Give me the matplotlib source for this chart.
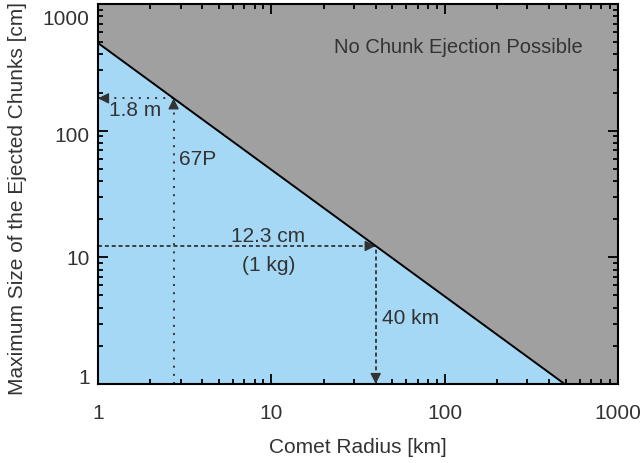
import numpy as np
import matplotlib.pyplot as plt
import matplotlib.transforms as mtransforms
from matplotlib.ticker import FixedLocator, LogLocator, NullFormatter

plt.rcParams['font.family'] = ['Liberation Sans', 'DejaVu Sans']

# ---------------- data ----------------
# boundary: largest chunk that can still be ejected vs comet radius
boundary_radius = [1.0, 2.73, 40.0, 492.0]      # km
boundary_size = [492.0, 180.0, 12.3, 1.0]       # cm

# the two marked cases
p67_radius, p67_size = 2.73, 180.0              # 67P, 1.8 m
r40_radius, r40_size = 40.0, 12.3               # 40 km, 12.3 cm (1 kg)

x_ticks = [1, 10, 100, 1000]
y_ticks = [1, 10, 100, 1000]
x_ticklabels = ['1', '10', '100', '1000']
y_ticklabels = ['1', '10', '100', '1000']

blue = '#a5d8f5'
grey = '#a0a0a0'
txt = '#333333'
fs = 15


def arrow_head(ax, tip, tail):
    # short solid segment only used to draw the arrow head
    ax.annotate('', xy=tip, xytext=tail,
                arrowprops=dict(arrowstyle='-|>', color=txt, lw=1.0,
                                mutation_scale=16, shrinkA=0, shrinkB=0),
                zorder=2)


fig = plt.figure(figsize=(6.43, 4.64), dpi=100)
ax = fig.add_axes([98 / 643, 1 - 385 / 464, 520 / 643, 380 / 464])

ax.set_xscale('log')
ax.set_yscale('log')
ax.set_xlim(1, 1000)
ax.set_ylim(1, 1000)

bx = np.array(boundary_radius)
by = np.array(boundary_size)
ax.fill_between(bx, by, 1, color=blue, lw=0, zorder=1)
ax.fill_between(bx, by, 1000, color=grey, lw=0, zorder=1)
ax.fill_between([bx[-1], 1000], [1, 1], [1000, 1000], color=grey, lw=0, zorder=1)
ax.plot(bx, by, color='black', lw=1.4, zorder=3)

# -------- 67P: dotted lines --------
dots = (0, (1, 3.2))
ax.plot([1, p67_radius], [p67_size, p67_size], color=txt, lw=1.4, ls=dots, zorder=2)
ax.plot([p67_radius, p67_radius], [1, p67_size], color=txt, lw=1.4, ls=dots, zorder=2)
arrow_head(ax, (1, p67_size), (1.08, p67_size))
arrow_head(ax, (p67_radius, p67_size), (p67_radius, p67_size * 0.88))

# -------- 40 km: dashed lines --------
dash = (0, (2.2, 1.6))
ax.plot([1, r40_radius], [r40_size, r40_size], color=txt, lw=1.3, ls=dash, zorder=2)
ax.plot([r40_radius, r40_radius], [1, r40_size], color=txt, lw=1.3, ls=dash, zorder=2)
arrow_head(ax, (r40_radius, r40_size), (r40_radius * 0.92, r40_size))
arrow_head(ax, (r40_radius, 1), (r40_radius, 1.13))

ax.text(1.15, 148, '1.8 m', fontsize=fs, color=txt, va='center', ha='left')
ax.text(2.95, 60, '67P', fontsize=fs, color=txt, va='center', ha='left')
ax.text(9.6, 15.0, '12.3 cm', fontsize=fs, color=txt, va='center', ha='center')
ax.text(9.6, 8.8, '(1 kg)', fontsize=fs, color=txt, va='center', ha='center')
ax.text(43.5, 3.38, '40 km', fontsize=fs, color=txt, va='center', ha='left')
ax.text(120, 465, 'No Chunk Ejection Possible', fontsize=14.5, color=txt,
        va='center', ha='center')

# -------- axes styling --------
ax.xaxis.set_major_locator(FixedLocator(x_ticks))
ax.yaxis.set_major_locator(FixedLocator(y_ticks))
ax.set_xticklabels(x_ticklabels)
ax.set_yticklabels(y_ticklabels)
ax.xaxis.set_minor_locator(LogLocator(base=10, subs=np.arange(2, 10)))
ax.yaxis.set_minor_locator(LogLocator(base=10, subs=np.arange(2, 10)))
ax.xaxis.set_minor_formatter(NullFormatter())
ax.yaxis.set_minor_formatter(NullFormatter())

ax.tick_params(which='both', direction='in', top=True, right=True,
               color='black', width=1.3)
ax.tick_params(which='major', length=7, labelsize=fs, labelcolor=txt)
ax.tick_params(which='minor', length=3.5)
ax.tick_params(axis='x', which='major', pad=14)
ax.tick_params(axis='y', which='major', pad=6)
for s in ax.spines.values():
    s.set_linewidth(1.5)
    s.set_zorder(5)

# y tick labels in the original sit a bit inside the axis range
y_shift_px = [-8, -1, 3, 13]
for lab, dy in zip(ax.get_yticklabels(), y_shift_px):
    lab.set_transform(lab.get_transform() +
                      mtransforms.ScaledTranslation(0, -dy / 100, fig.dpi_scale_trans))

ax.set_xlabel('Comet Radius [km]', fontsize=fs, color=txt)
ax.set_ylabel('Maximum Size of the Ejected Chunks [cm]', fontsize=fs, color=txt)
ax.xaxis.set_label_coords(0.5, -0.14)
ax.yaxis.set_label_coords(-0.137, 0.49)

fig.savefig('out.png', dpi=100)
